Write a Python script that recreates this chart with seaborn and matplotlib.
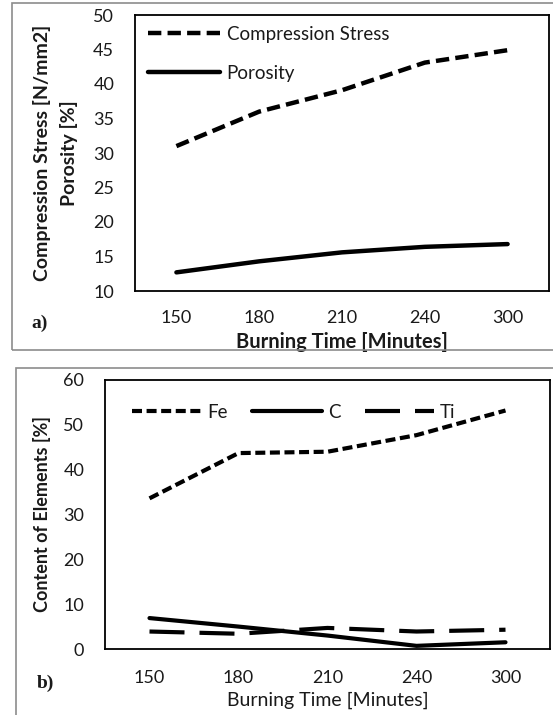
import numpy as np
import pandas as pd
import matplotlib
matplotlib.use("Agg")
import matplotlib.pyplot as plt
from matplotlib.lines import Line2D
from matplotlib.patches import Rectangle
import seaborn as sns

# ── data ──────────────────────────────────────
times = ["150", "180", "210", "240", "300"]

compression_stress = [31.0, 36.0, 39.1, 43.1, 44.9]
porosity           = [12.7, 14.3, 15.6, 16.4, 16.8]

fe = [33.6, 43.7, 44.0, 47.7, 53.2]
c  = [6.9, 5.0, 3.0, 0.7, 1.5]
ti = [3.9, 3.4, 4.7, 3.9, 4.3]

yticks_a = [10, 15, 20, 25, 30, 35, 40, 45, 50]
yticks_b = [0, 10, 20, 30, 40, 50, 60]

# ── style ─────────────────────────────────────
sns.set_theme(style="white")
plt.rcParams["font.family"] = ["Lato", "DejaVu Sans"]
TXT = "#1a1a1a"

W, H = 553, 715
fig = plt.figure(figsize=(W / 100, H / 100), dpi=100)


def fig_box(l, t, r, b):
    return [l / W, 1 - b / H, (r - l) / W, (b - t) / H]


def long_df(series):
    rows = []
    for name, vals in series.items():
        for t, v in zip(times, vals):
            rows.append({"time": t, "value": v, "series": name})
    return pd.DataFrame(rows)


def style_axes(ax, ylim, yticks, pad_x, pad_y):
    ax.set_xlim(-0.5, len(times) - 0.5)
    ax.set_ylim(*ylim)
    ax.set_yticks(yticks)
    ax.set_xticks(range(len(times)))
    ax.set_xticklabels(times)
    ax.tick_params(length=0, labelsize=13, colors=TXT)
    ax.tick_params(axis="x", pad=pad_x)
    ax.tick_params(axis="y", pad=pad_y)
    for s in ax.spines.values():
        s.set_visible(True)
        s.set_color("black")
        s.set_linewidth(1.3)
    ax.grid(False)


# outer panel frames
fig.patches.append(Rectangle((12 / W, 1 - 350 / H), 545 / W, 347 / H,
                             transform=fig.transFigure, fill=False,
                             ec="#8c8c8c", lw=1.2))
fig.patches.append(Rectangle((16 / W, 1 - 720 / H), 545 / W, 352 / H,
                             transform=fig.transFigure, fill=False,
                             ec="#8c8c8c", lw=1.2))

# ── panel a ───────────────────────────────────
ax1 = fig.add_axes(fig_box(135, 15, 549, 291))
dash_a = {"Compression Stress": (3.0, 1.4), "Porosity": ""}
df_a = long_df({"Compression Stress": compression_stress, "Porosity": porosity})
sns.lineplot(data=df_a, x="time", y="value", style="series", dashes=dash_a,
             color="black", lw=3.2, legend=False, ax=ax1)
style_axes(ax1, (10, 50), yticks_a, 14, 15)
ax1.set_xlabel("Burning Time [Minutes]", fontsize=14.5, fontweight="bold",
               color=TXT, labelpad=4)
ax1.set_ylabel("Compression Stress [N/mm2]\nPorosity [%]", fontsize=14,
               fontweight="bold", color=TXT, labelpad=11, linespacing=1.62)
h_a = [Line2D([], [], color="black", lw=3.2, dashes=dash_a["Compression Stress"]),
       Line2D([], [], color="black", lw=3.2)]
ax1.legend(h_a, list(dash_a), loc="upper left", frameon=False, fontsize=13.5,
           handlelength=3.85, handletextpad=0.35, labelspacing=1.2,
           bbox_to_anchor=(0.013, 0.989), borderaxespad=0.0,
           labelcolor=TXT)
fig.text(40 / W, 1 - 323 / H, "a)", fontsize=14, fontweight="bold",
         family="Liberation Serif", ha="center", va="center", color=TXT)

# ── panel b ───────────────────────────────────
ax2 = fig.add_axes(fig_box(105, 380, 550, 649))
dash_b = {"Fe": (2.4, 1.1), "C": "", "Ti": (8.4, 3.6)}
df_b = long_df({"Fe": fe, "C": c, "Ti": ti})
sns.lineplot(data=df_b, x="time", y="value", style="series", dashes=dash_b,
             color="black", lw=3.0, legend=False, ax=ax2)
style_axes(ax2, (0, 60), yticks_b, 15, 15)
ax2.set_xlabel("Burning Time [Minutes]", fontsize=14, color=TXT, labelpad=4)
ax2.set_ylabel("Content of Elements [%]", fontsize=13, fontweight="bold",
               color=TXT, labelpad=9)
h_b = [Line2D([], [], color="black", lw=3.0, dashes=dash_b["Fe"]),
       Line2D([], [], color="black", lw=3.0),
       Line2D([], [], color="black", lw=3.0, dashes=dash_b["Ti"])]
ax2.legend(h_b, list(dash_b), loc="upper left", ncol=3, frameon=False,
           fontsize=13.5, handlelength=3.7, handletextpad=0.32,
           columnspacing=1.3, bbox_to_anchor=(0.044, 0.939),
           borderaxespad=0.0, labelcolor=TXT)
fig.text(45 / W, 1 - 683 / H, "b)", fontsize=14, fontweight="bold",
         family="Liberation Serif", ha="center", va="center", color=TXT)

fig.savefig("out.png", dpi=100)
